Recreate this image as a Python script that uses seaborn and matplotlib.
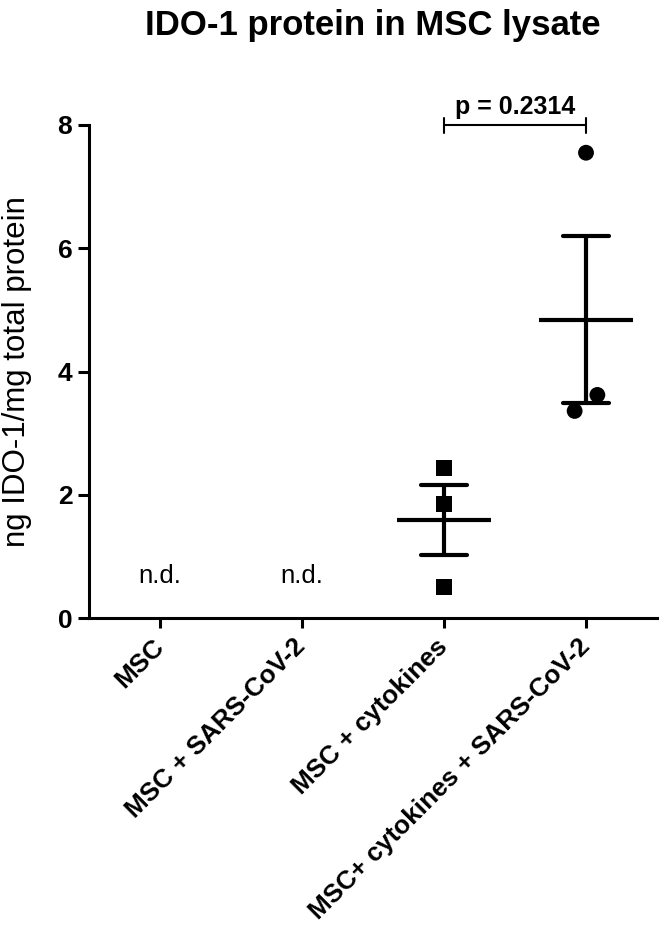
# IDO-1 protein in MSC lysate - dot plot with mean +/- SEM

import pandas as pd
import seaborn as sns
import matplotlib.pyplot as plt

sns.set_theme(style="ticks", rc={'text.color': 'black', 'axes.labelcolor': 'black',
                                 'axes.edgecolor': 'black', 'xtick.color': 'black',
                                 'ytick.color': 'black'})
plt.rcParams['font.family'] = ['Liberation Sans', 'DejaVu Sans']

# data
groups = ['MSC', 'MSC + SARS-CoV-2', 'MSC + cytokines', 'MSC+ cytokines + SARS-CoV-2']
cyto_vals = [2.43, 1.85, 0.50]
cyto_cov_vals = [7.55, 3.62, 3.36]
cyto_offsets = [0.0, 0.0, 0.0]
cyto_cov_offsets = [0.0, 0.08, -0.08]
nd_groups = ['MSC', 'MSC + SARS-CoV-2']
y_ticks = [0, 2, 4, 6, 8]
p_label = 'p = 0.2314'

df = pd.DataFrame({
    'group': [groups[2]] * 3 + [groups[3]] * 3,
    'value': cyto_vals + cyto_cov_vals,
    'shape': ['sq'] * 3 + ['ci'] * 3,
    'offset': cyto_offsets + cyto_cov_offsets,
})
df['pos'] = df['group'].map({g: i for i, g in enumerate(groups)}) + df['offset']

fig = plt.figure(figsize=(6.6, 9.33), dpi=100)
ax = fig.add_axes([89 / 660, 1 - 618 / 933, 568 / 660, 493 / 933])

# mean line + SEM error bars
sns.pointplot(data=df, x='group', y='value', order=groups, errorbar='se',
              capsize=0.32, linestyle='none', marker='_', markersize=67,
              markeredgewidth=3, color='black', err_kws={'linewidth': 3},
              ax=ax, zorder=3)

# individual points
sns.scatterplot(data=df, x='pos', y='value', style='shape',
                markers={'sq': 's', 'ci': 'o'}, color='black', s=130,
                linewidth=0, legend=False, ax=ax, zorder=2)

for g in nd_groups:
    ax.text(groups.index(g), 0.68, 'n.d.', ha='center', va='center', fontsize=18.5)

# significance bracket
i2, i3 = 2, 3
ax.plot([i2, i3], [8.0, 8.0], color='black', lw=1.5, clip_on=False)
for xi in (i2, i3):
    ax.plot([xi, xi], [7.87, 8.11], color='black', lw=1.5, clip_on=False)
ax.text((i2 + i3) / 2, 8.18, p_label, ha='center', va='baseline',
        fontsize=18, fontweight='bold')

ax.set_xlim(-0.5, 3.5)
ax.set_ylim(0, 8)
ax.set_yticks(y_ticks)
ax.set_xticks(range(len(groups)))
ax.set_xticklabels(groups, rotation=45, ha='right', va='center',
                   rotation_mode='anchor', fontsize=18.8, fontweight='bold')
ax.tick_params(axis='x', length=7, width=2.2, pad=11)
ax.tick_params(axis='y', length=8, width=2.2, pad=4, labelsize=19)
for lab in ax.get_yticklabels():
    lab.set_fontweight('bold')

ax.set_xlabel('')
ax.set_ylabel('ng IDO-1/mg total protein', fontsize=22.5)
ax.yaxis.set_label_coords(-0.1, 0.5)
ax.set_title('IDO-1 protein in MSC lysate', fontsize=25, fontweight='bold', pad=65)

sns.despine(ax=ax)
for side in ['left', 'bottom']:
    ax.spines[side].set_linewidth(2.2)

fig.savefig('out.png', dpi=100)
